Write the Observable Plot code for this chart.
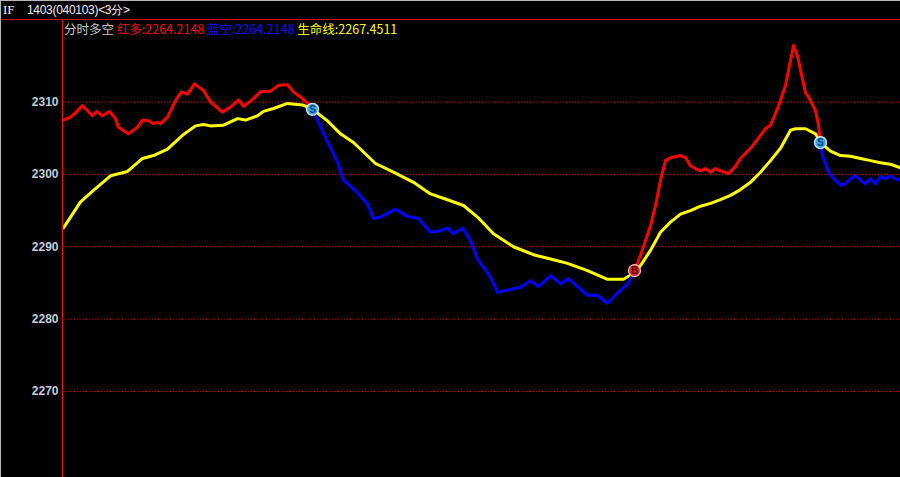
<!DOCTYPE html>
<html>
<head>
<meta charset="utf-8">
<script src="https://cdn.jsdelivr.net/npm/d3@7"></script>
<script src="https://cdn.jsdelivr.net/npm/@observablehq/plot@0.6"></script>
<style>
  html, body { margin: 0; padding: 0; background: #000; }
  #wrap { position: relative; width: 900px; height: 477px; background: #000; overflow: hidden; }
  #header { position: relative; height: 19px; border-bottom: 1px solid #c81010; box-sizing: content-box;
            font-family: "Liberation Sans", Arial, sans-serif; font-size: 12px; color: #f0f0f0; }
  #header .a { position: absolute; left: 3px; top: 2px; font-family: "Liberation Serif", serif; font-size: 13px; }
  #header .b { position: absolute; left: 27px; top: 2px; letter-spacing: -0.3px; }
  #legend { position: absolute; left: 64px; top: 21px; font-family: "Noto Sans CJK SC", "Liberation Sans", sans-serif;
            font-size: 12.5px; line-height: 15px; white-space: pre; }
  .edgeL { position: absolute; left: 0; top: 0; width: 1px; height: 477px; background: #b8b8b8; }
  .edgeT { position: absolute; left: 0; top: 0; width: 900px; height: 1px; background: #b8b8b8; }
  svg { display: block; }
</style>
</head>
<body>
<div id="wrap">
  <div id="header"><span class="a">IF</span><span class="b">1403(040103)&lt;3分&gt;</span></div>
  <div id="chart"></div>
  <div id="legend"><span style="color:#c8c8c8">分时多空 </span><span style="color:#ff0000">红多:2264.2148 </span><span style="color:#1010ff">蓝空:2264.2148 </span><span style="color:#ffff00">生命线:2267.4511</span></div>
  <div class="edgeL"></div>
  <div class="edgeT"></div>
</div>
<script>
// time index (bars offset) and prices
const redT1 = [1,8,13,20,25,30,34,40,47,53,56,66,75,80,86,91,95,98,105,113,119,125,132,141,148,160,168,176,181,188,198,208,216,225,231,238,245,250];
const redV1 = [2307.5,2307.9,2308.5,2309.5,2308.8,2308.1,2308.7,2308.1,2308.7,2307.7,2306.5,2305.6,2306.5,2307.5,2307.4,2307.0,2307.2,2307.0,2307.9,2310.2,2311.4,2311.1,2312.5,2311.6,2310.0,2308.6,2309.3,2310.3,2309.4,2310.1,2311.4,2311.5,2312.3,2312.4,2311.4,2310.7,2309.8,2309.0];

const blueT1 = [250,263,275,281,295,305,311,318,333,345,356,368,378,385,391,400,408,415,428,435,448,458,468,476,488,498,506,525,535,545,558,565,572];
const blueV1 = [2309.0,2305.1,2301.7,2299.2,2297.5,2295.9,2293.9,2294.1,2295.2,2294.2,2293.9,2292.0,2292.2,2292.6,2291.8,2292.6,2290.9,2288.3,2285.8,2283.7,2284.1,2284.4,2285.3,2284.5,2286.0,2284.9,2285.6,2283.3,2283.3,2282.2,2284.0,2284.8,2286.7];

const redT2 = [572,578,588,593,598,603,608,618,623,628,633,638,643,648,653,658,666,673,678,688,698,703,708,713,718,723,728,731,735,738,743,748,753,756,758];
const redV2 = [2286.7,2288.8,2292.9,2295.7,2299.2,2301.9,2302.3,2302.6,2302.3,2301.2,2300.8,2300.5,2300.8,2300.3,2300.8,2300.5,2300.1,2301.1,2302.2,2303.6,2305.4,2306.3,2306.8,2308.4,2310.2,2312.3,2315.7,2317.8,2316.4,2314.4,2311.3,2310.2,2308.8,2306.8,2304.4];

const blueT2 = [758,760,766,773,778,783,788,793,798,803,808,813,818,823,828,833,838];
const blueV2 = [2304.4,2302.6,2300.3,2299.2,2298.5,2298.7,2299.4,2299.8,2299.2,2298.7,2299.4,2298.7,2299.7,2299.4,2299.8,2299.4,2299.2];

const yellowT = [1,18,31,48,65,80,91,105,120,133,141,148,161,175,183,195,201,211,225,240,250,265,278,291,313,331,351,368,385,401,415,431,451,471,491,505,525,545,561,572,578,588,598,608,618,628,638,648,658,668,678,688,698,708,718,728,733,743,753,758,768,778,788,798,808,818,828,838];
const yellowV = [2292.6,2296.2,2297.8,2299.8,2300.4,2302.2,2302.6,2303.5,2305.4,2306.7,2306.9,2306.7,2306.8,2307.7,2307.5,2308.1,2308.7,2309.1,2309.8,2309.6,2309.0,2307.4,2305.6,2304.4,2301.5,2300.3,2298.9,2297.3,2296.5,2295.7,2294.1,2291.8,2290.0,2288.9,2288.2,2287.7,2286.7,2285.5,2285.5,2286.4,2287.4,2289.5,2292.0,2293.4,2294.5,2295.0,2295.6,2296.0,2296.5,2297.1,2297.9,2298.9,2300.3,2301.9,2303.6,2306.1,2306.3,2306.3,2305.6,2304.4,2303.2,2302.6,2302.5,2302.2,2301.9,2301.6,2301.4,2300.9];

const signalT = [250, 572, 758];
const signalV = [2309.0, 2286.7, 2304.4];
const signalLabel = ["S", "B", "S"];

const yTicks = [2270, 2280, 2290, 2300, 2310];

const toRows = (ts, vs) => ts.map((t, i) => ({t, v: vs[i]}));
const red1 = toRows(redT1, redV1), red2 = toRows(redT2, redV2);
const blue1 = toRows(blueT1, blueV1), blue2 = toRows(blueT2, blueV2);
const yellow = toRows(yellowT, yellowV);
const signals = signalT.map((t, i) => ({t, v: signalV[i], s: signalLabel[i]}));

const lw = 3;
const chart = Plot.plot({
  width: 900,
  height: 457,
  marginLeft: 62,
  marginRight: 0,
  marginTop: 0,
  marginBottom: 0,
  style: {background: "#000", color: "#c4ccd8", fontFamily: "Liberation Sans, Arial, sans-serif", fontSize: "12px"},
  x: {domain: [0, 838], axis: null},
  y: {domain: [2258.12, 2321.26], label: null},
  marks: [
    Plot.ruleY(yTicks, {stroke: "#c00000", strokeDasharray: "1.5,1.5", strokeWidth: 1}),
    Plot.axisY({ticks: yTicks, tickSize: 0, tickPadding: 4, fontWeight: "bold", fontSize: 12, tickFormat: d => String(d), fill: "#c4ccd8", label: null}),
    Plot.line(yellow, {x: "t", y: "v", stroke: "#ffff00", strokeWidth: lw, strokeLinejoin: "round"}),
    Plot.line(red1, {x: "t", y: "v", stroke: "#ff0000", strokeWidth: lw, strokeLinejoin: "round"}),
    Plot.line(blue1, {x: "t", y: "v", stroke: "#0000ff", strokeWidth: lw, strokeLinejoin: "round"}),
    Plot.line(red2, {x: "t", y: "v", stroke: "#ff0000", strokeWidth: lw, strokeLinejoin: "round"}),
    Plot.line(blue2, {x: "t", y: "v", stroke: "#0000ff", strokeWidth: lw, strokeLinejoin: "round"}),
    Plot.ruleX([0], {stroke: "#e01010", strokeWidth: 1.5}),
    Plot.dot(signals, {x: "t", y: "v", r: 6, fill: d => d.s === "S" ? "#3aa8ec" : "#e02828", stroke: d => d.s === "S" ? "#d8f2ff" : "#ffc0c0", strokeWidth: 1.2}),
    Plot.text(signals, {x: "t", y: "v", text: "s", fill: d => d.s === "S" ? "#103c78" : "#5a0000", fontWeight: "bold", fontSize: 10, dy: 0.5})
  ]
});
document.getElementById("chart").appendChild(chart);
</script>
</body>
</html>
